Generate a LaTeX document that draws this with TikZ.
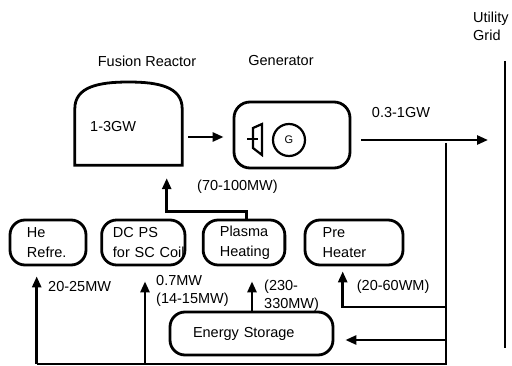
\documentclass[tikz,border=0pt]{standalone}
\usepackage{fontspec}
\setmainfont{Liberation Sans}
\usepackage{tikz}
\usetikzlibrary{arrows.meta}

\begin{document}
\begin{tikzpicture}[x=1pt,y=-1pt,
    font=\fontsize{14.5}{18}\selectfont,
    unit/.style={draw,line width=2.8pt,rounded corners=15pt,minimum height=45pt,align=left,font=\fontsize{14.5}{20}\selectfont},
    flow/.style={line width=2.6pt,-{Triangle[length=11pt,width=9pt]}},
    wire/.style={line width=2.6pt},
    txt/.style={inner sep=0pt,anchor=west,align=left}]

    \useasboundingbox (0,0) rectangle (512,366);

    %Reactor and generator
    \node[minimum width=107pt,minimum height=56pt,inner sep=0pt] (reactor) at (128.5,137) {};
    \draw[line width=2.8pt] (reactor.north east) .. controls +(0,-22) and +(30,0) .. (128.5,82) .. controls +(-30,0) and +(0,-22) .. (reactor.north west) -- (reactor.south west) -- (reactor.south east) -- cycle;
    \node[txt] (rlabel) at (90,127) {1-3GW};
    \node (rtitle) at (147,61) {Fusion Reactor};

    \node[draw,line width=2.8pt,rounded corners=16pt,minimum width=116pt,minimum height=66pt] (gen) at (292,135) {};
    \node (gtitle) at (281,61) {Generator};
    \draw[line width=2.2pt] (253,128) -- (262,124) -- (262,155) -- (253,148) -- cycle;
    \draw[line width=2.2pt] (247,139) -- (258,139);
    \node[draw,circle,line width=2.2pt,minimum size=32pt,inner sep=0pt,font=\fontsize{11}{12}\selectfont] (g) at (289,140) {G};

    \draw[flow] ([xshift=6pt]reactor.east) -- ([xshift=-9pt]gen.west |- reactor.east);

    %Loads
    \node[unit,text width=42pt,inner xsep=17pt] (he) at (48,242.5) {He\\Refre.};
    \node[unit,text width=60.7pt,inner xsep=11.3pt] (dcps) at (143.3,242.5) {DC PS\\\mbox{for SC Coil}};
    \node[unit,text width=48.3pt,inner xsep=16.7pt] (heat) at (244,242.5) {Plasma\\\mbox{Heating}};
    \node[unit,text width=62.6pt,inner xsep=17.7pt] (pre) at (354,242.5) {Pre\\Heater};
    \node[unit,text width=117pt,inner xsep=23pt,minimum height=43pt] (store) at (251.5,333.5) {Energy Storage};

    %Grid and bus
    \coordinate (gridtop) at (505,61);
    \coordinate (gridbot) at (505,348);
    \coordinate (tap) at (446,143);
    \coordinate (busend) at (446,364);
    \coordinate (pretap) at (446,307);
    \coordinate (storetap) at (446,340);
    \draw[wire] (gridtop) -- (gridbot);
    \node[txt] (gridlbl) at (473,26.5) {Utility\\Grid};

    \draw[flow] ([xshift=10pt]gen.east |- g) -- ([xshift=-17pt]gridtop |- g);
    \draw[wire] (tap) -- (busend) -- ([xshift=-11.3pt]he.south |- busend);

    \draw[flow] ([xshift=-11.3pt]he.south |- busend) -- ([xshift=-11.3pt,yshift=-10pt]he.south);
    \draw[flow] ([xshift=1.7pt]dcps.south |- busend) -- ([xshift=1.7pt,yshift=-15pt]dcps.south);
    \draw[flow] ([xshift=8pt]heat.south |- store.north) -- ([xshift=8pt,yshift=-15pt]heat.south);
    \draw[flow] (pretap) -| ([xshift=-11.3pt,yshift=-5pt]pre.south);
    \draw[flow] (storetap) -- ([xshift=11pt]store.east |- storetap);

    %Feedback to reactor
    \draw[flow] ([xshift=2.7pt]heat.north) -- ++(0,-7) -| ([xshift=38.2pt,yshift=-13pt]reactor.south);

    %Labels
    \node[txt] (l1) at (197,187) {(70-100MW)};
    \node (l2) at (401,113) {0.3-1GW};
    \node[txt] (l3) at (48,287) {20-25MW};
    \node[txt] (l4) at (156,291) {0.7MW\\(14-15MW)};
    \node[txt] (l5) at (264,296) {(230-\\330MW)};
    \node[txt] (l6) at (356.7,287) {(20-60WM)};

\end{tikzpicture}
\end{document}
